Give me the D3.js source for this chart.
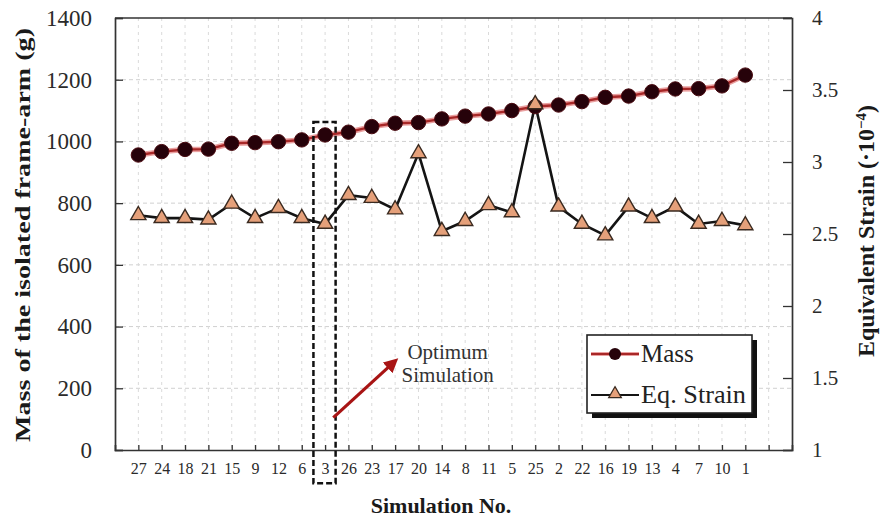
<!DOCTYPE html>
<html><head><meta charset="utf-8">
<script src="https://cdn.jsdelivr.net/npm/d3@7"></script>
<style>
body{margin:0;background:#fff;}
text{font-family:"Liberation Serif","Times New Roman",serif;}
</style></head>
<body><svg id="chart" width="882" height="522"></svg>
<script>
const simulations = ["27","24","18","21","15","9","12","6","3","26","23","17","20","14","8","11","5","25","2","22","16","19","13","4","7","10","1"];
const massValues = [956,967,974,975,994,996,999,1005,1021,1030,1048,1059,1061,1073,1082,1089,1100,1113,1118,1129,1143,1147,1161,1170,1171,1180,1215];
const strainValues = [2.63,2.61,2.61,2.60,2.71,2.61,2.68,2.61,2.57,2.77,2.75,2.67,3.06,2.52,2.59,2.70,2.65,3.40,2.69,2.57,2.49,2.69,2.61,2.69,2.57,2.59,2.56];
const leftTicks = [0,200,400,600,800,1000,1200,1400];
const rightTicks = [1,1.5,2,2.5,3,3.5,4];
const optimumLabel = "3";

const svg = d3.select("#chart");
const L = 115, R = 792, T = 18, B = 450;
const x = d3.scaleLinear().domain([0, simulations.length + 2]).range([L, R]);
const yL = d3.scaleLinear().domain([0, 1400]).range([B, T]);
const yR = d3.scaleLinear().domain([1, 4]).range([B, T]);
const pos = i => i + 1;

// grid
const grid = svg.append("g");
grid.selectAll("line.h").data(leftTicks.slice(1, -1)).enter().append("line")
  .attr("x1", L).attr("x2", R).attr("y1", d => yL(d)).attr("y2", d => yL(d))
  .attr("stroke", "#d0d0d0").attr("stroke-dasharray", "4,3").attr("stroke-width", 1);
grid.selectAll("line.v").data(d3.range(1, simulations.length + 2)).enter().append("line")
  .attr("x1", d => x(d)).attr("x2", d => x(d)).attr("y1", T).attr("y2", B)
  .attr("stroke", "#dadada").attr("stroke-dasharray", "3,4").attr("stroke-width", 1);

// axes
const axL = svg.append("g").attr("transform", `translate(${L},0)`)
  .call(d3.axisLeft(yL).tickValues(leftTicks).tickSize(-8).tickPadding(23).tickFormat(d3.format("d")));
const axR = svg.append("g").attr("transform", `translate(${R},0)`)
  .call(d3.axisRight(yR).tickValues(rightTicks).tickSize(-9).tickPadding(20).tickFormat(d => d));
const axB = svg.append("g").attr("transform", `translate(0,${B})`)
  .call(d3.axisBottom(x).tickValues(d3.range(1, simulations.length + 2)).tickSize(-5).tickPadding(13)
    .tickFormat(d => simulations[d - 1] || ""));
[axL, axR, axB].forEach(a => {
  a.select(".domain").attr("stroke", "#333").attr("stroke-width", 1.7);
  a.selectAll(".tick line").attr("stroke", "#333").attr("stroke-width", 1.3);
  a.selectAll(".tick text").attr("fill", "#2a2a2a").style("font-family", "Liberation Serif");
});
axL.selectAll(".tick text").attr("font-size", 23);
axR.selectAll(".tick text").attr("font-size", 21).attr("text-anchor", "start");
axB.selectAll(".tick text").attr("font-size", 16);
// top border
svg.append("line").attr("x1", L).attr("x2", R).attr("y1", T).attr("y2", T)
  .attr("stroke", "#333").attr("stroke-width", 1.7);

// lines
const massLine = d3.line().x((d, i) => x(pos(i))).y(d => yL(d));
const strainLine = d3.line().x((d, i) => x(pos(i))).y(d => yR(d));
svg.append("path").datum(massValues).attr("d", massLine)
  .attr("fill", "none").attr("stroke", "#eaa0a0").attr("stroke-width", 5.5);
svg.append("path").datum(massValues).attr("d", massLine)
  .attr("fill", "none").attr("stroke", "#a82828").attr("stroke-width", 2.4);
svg.append("path").datum(strainValues).attr("d", strainLine)
  .attr("fill", "none").attr("stroke", "#141414").attr("stroke-width", 2.6);

svg.selectAll("circle.mass").data(massValues).enter().append("circle")
  .attr("cx", (d, i) => x(pos(i))).attr("cy", d => yL(d)).attr("r", 7.2)
  .attr("fill", "#26020a").attr("stroke", "#4a0a10").attr("stroke-width", 1);
const tri = d3.symbol().type(d3.symbolTriangle).size(100);
svg.selectAll("path.strain").data(strainValues).enter().append("path")
  .attr("d", tri).attr("transform", (d, i) => `translate(${x(pos(i))},${yR(d)})`)
  .attr("fill", "#e5a07a").attr("stroke", "#3a2a20").attr("stroke-width", 1.4);

// optimum box
const oi = simulations.indexOf(optimumLabel);
svg.append("rect")
  .attr("x", x(pos(oi) - 0.5)).attr("width", x(pos(oi) + 0.45) - x(pos(oi) - 0.5))
  .attr("y", yL(1063)).attr("height", yL(-108) - yL(1063))
  .attr("fill", "none").attr("stroke", "#111").attr("stroke-width", 2.5).attr("stroke-dasharray", "6,3");

// annotation arrow
const defs = svg.append("defs");
defs.append("marker").attr("id", "arr").attr("viewBox", "0 0 10 10").attr("refX", 6).attr("refY", 5)
  .attr("markerWidth", 4.5).attr("markerHeight", 4.5).attr("orient", "auto")
  .append("path").attr("d", "M0,0L10,5L0,10z").attr("fill", "#a81414");
svg.append("line")
  .attr("x1", x(pos(oi) + 0.35)).attr("y1", yL(105))
  .attr("x2", x(pos(oi) + 2.95)).attr("y2", yL(285))
  .attr("stroke", "#a81414").attr("stroke-width", 3.2).attr("marker-end", "url(#arr)");
const ann = svg.append("text").attr("text-anchor", "middle").attr("font-size", 21).attr("fill", "#333");
ann.append("tspan").attr("x", x(pos(oi) + 5.25)).attr("y", yL(295)).text("Optimum");
ann.append("tspan").attr("x", x(pos(oi) + 5.25)).attr("y", yL(220)).text("Simulation");

// legend
const lg = svg.append("g").attr("transform", "translate(587,335)");
lg.append("rect").attr("x", 5).attr("y", 5).attr("width", 165).attr("height", 78).attr("fill", "#111");
lg.append("rect").attr("x", 0).attr("y", 0).attr("width", 165).attr("height", 78)
  .attr("fill", "#fff").attr("stroke", "#222").attr("stroke-width", 1.6);
lg.append("line").attr("x1", 4).attr("x2", 52).attr("y1", 19).attr("y2", 19).attr("stroke", "#eaa0a0").attr("stroke-width", 4);
lg.append("line").attr("x1", 4).attr("x2", 52).attr("y1", 19).attr("y2", 19).attr("stroke", "#a82828").attr("stroke-width", 1.8);
lg.append("circle").attr("cx", 28).attr("cy", 19).attr("r", 6).attr("fill", "#26020a");
lg.append("text").attr("x", 54).attr("y", 27).attr("font-size", 25).attr("fill", "#222").text("Mass");
lg.append("line").attr("x1", 4).attr("x2", 52).attr("y1", 60).attr("y2", 60).attr("stroke", "#141414").attr("stroke-width", 2.2);
lg.append("path").attr("d", d3.symbol().type(d3.symbolTriangle).size(70)).attr("transform", "translate(28,59)")
  .attr("fill", "#e5a07a").attr("stroke", "#3a2a20").attr("stroke-width", 1.2);
lg.append("text").attr("x", 54).attr("y", 68).attr("font-size", 25).attr("fill", "#222")
  .attr("textLength", 105).attr("lengthAdjust", "spacingAndGlyphs").text("Eq. Strain");

// axis titles
svg.append("text").attr("transform", "translate(30,235) rotate(-90)").attr("text-anchor", "middle")
  .attr("font-size", 22).attr("font-weight", "bold").attr("fill", "#1a1a1a")
  .attr("textLength", 414).attr("lengthAdjust", "spacingAndGlyphs")
  .text("Mass of the isolated frame-arm (g)");
const rt = svg.append("text").attr("transform", "translate(874,231) rotate(-90)").attr("text-anchor", "middle")
  .attr("font-size", 24).attr("font-weight", "bold").attr("fill", "#1a1a1a");
rt.append("tspan").text("Equivalent Strain (·10");
rt.append("tspan").attr("dy", -8).attr("font-size", 15).text("−4");
rt.append("tspan").attr("dy", 8).text(")");
svg.append("text").attr("x", 441).attr("y", 513).attr("text-anchor", "middle")
  .attr("font-size", 22).attr("font-weight", "bold").attr("fill", "#1a1a1a").text("Simulation No.");
</script></body></html>
